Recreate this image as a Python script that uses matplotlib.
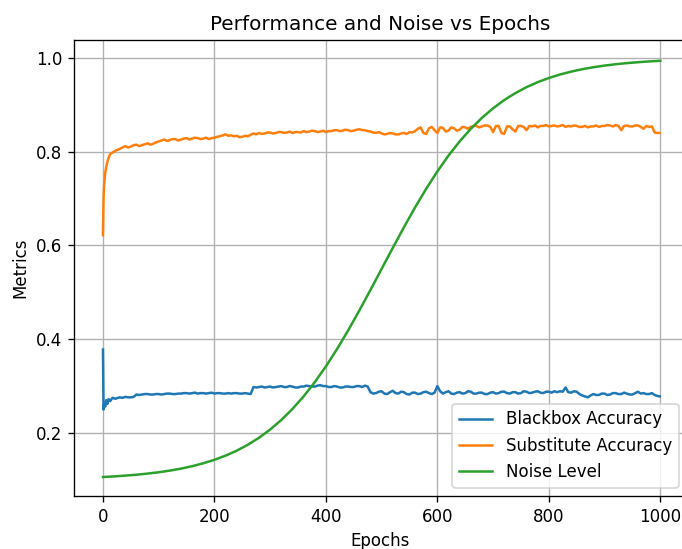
import matplotlib
matplotlib.use("Agg")
import matplotlib.pyplot as plt

acc_epochs = [0, 1, 2, 4, 6, 8, 10, 13, 17, 22] + list(range(30, 1000, 5)) + [999]

blackbox_acc = [
    0.378, 0.250, 0.262, 0.256, 0.270, 0.262, 0.272, 0.268, 0.275, 0.273,
    0.276, 0.275, 0.277, 0.276, 0.276, 0.277, 0.282, 0.281, 0.282, 0.283,
    0.283, 0.282, 0.282, 0.283, 0.283, 0.282, 0.283, 0.284, 0.284, 0.283,
    0.283, 0.284, 0.284, 0.285, 0.285, 0.284, 0.285, 0.286, 0.284, 0.285,
    0.285, 0.284, 0.285, 0.286, 0.284, 0.285, 0.285, 0.284, 0.284, 0.285,
    0.284, 0.285, 0.285, 0.284, 0.284, 0.285, 0.284, 0.283, 0.298, 0.297,
    0.298, 0.299, 0.297, 0.298, 0.299, 0.297, 0.298, 0.299, 0.300, 0.298,
    0.298, 0.300, 0.299, 0.297, 0.297, 0.299, 0.299, 0.301, 0.300, 0.299,
    0.299, 0.301, 0.302, 0.300, 0.300, 0.298, 0.298, 0.300, 0.299, 0.297,
    0.297, 0.299, 0.299, 0.298, 0.298, 0.300, 0.300, 0.298, 0.301, 0.299,
    0.287, 0.284, 0.285, 0.288, 0.289, 0.284, 0.283, 0.287, 0.290, 0.285,
    0.284, 0.288, 0.287, 0.283, 0.282, 0.286, 0.286, 0.283, 0.284, 0.287,
    0.288, 0.285, 0.283, 0.286, 0.300, 0.289, 0.284, 0.287, 0.289, 0.284,
    0.283, 0.286, 0.287, 0.284, 0.285, 0.289, 0.288, 0.284, 0.284, 0.286,
    0.286, 0.283, 0.283, 0.286, 0.287, 0.284, 0.285, 0.288, 0.288, 0.285,
    0.284, 0.287, 0.287, 0.284, 0.285, 0.289, 0.288, 0.285, 0.286, 0.288,
    0.289, 0.286, 0.285, 0.288, 0.288, 0.286, 0.289, 0.287, 0.289, 0.288,
    0.297, 0.287, 0.286, 0.289, 0.288, 0.283, 0.280, 0.278, 0.276, 0.280,
    0.283, 0.281, 0.281, 0.284, 0.284, 0.281, 0.282, 0.285, 0.285, 0.283,
    0.283, 0.286, 0.284, 0.282, 0.282, 0.285, 0.288, 0.284, 0.285, 0.283,
    0.283, 0.285, 0.281, 0.279,
    0.278,
]

substitute_acc = [
    0.622, 0.700, 0.728, 0.755, 0.768, 0.779, 0.787, 0.795, 0.798, 0.802,
    0.806, 0.809, 0.812, 0.809, 0.811, 0.814, 0.815, 0.812, 0.814, 0.816,
    0.818, 0.815, 0.817, 0.820, 0.822, 0.824, 0.826, 0.823, 0.825, 0.827,
    0.827, 0.824, 0.826, 0.828, 0.829, 0.826, 0.828, 0.830, 0.829, 0.827,
    0.828, 0.830, 0.827, 0.829, 0.830, 0.832, 0.833, 0.835, 0.837, 0.834,
    0.835, 0.833, 0.834, 0.831, 0.832, 0.834, 0.833, 0.836, 0.839, 0.837,
    0.840, 0.838, 0.839, 0.841, 0.841, 0.839, 0.840, 0.842, 0.842, 0.840,
    0.841, 0.843, 0.840, 0.842, 0.842, 0.841, 0.844, 0.842, 0.843, 0.845,
    0.844, 0.842, 0.843, 0.845, 0.842, 0.844, 0.844, 0.846, 0.846, 0.844,
    0.845, 0.847, 0.846, 0.844, 0.845, 0.847, 0.848, 0.846, 0.846, 0.844,
    0.843, 0.841, 0.840, 0.842, 0.839, 0.837, 0.838, 0.840, 0.839, 0.837,
    0.837, 0.839, 0.840, 0.838, 0.842, 0.841, 0.844, 0.849, 0.852, 0.840,
    0.838, 0.850, 0.853, 0.846, 0.840, 0.852, 0.851, 0.843, 0.845, 0.852,
    0.850, 0.845, 0.847, 0.853, 0.852, 0.849, 0.853, 0.855, 0.855, 0.852,
    0.854, 0.856, 0.856, 0.853, 0.842, 0.855, 0.855, 0.840, 0.838, 0.854,
    0.854, 0.848, 0.843, 0.855, 0.855, 0.853, 0.846, 0.855, 0.854, 0.856,
    0.852, 0.855, 0.855, 0.857, 0.854, 0.855, 0.856, 0.854, 0.855, 0.857,
    0.853, 0.855, 0.854, 0.856, 0.855, 0.853, 0.853, 0.855, 0.852, 0.854,
    0.854, 0.856, 0.853, 0.855, 0.855, 0.857, 0.856, 0.854, 0.857, 0.855,
    0.846, 0.855, 0.856, 0.854, 0.854, 0.856, 0.856, 0.853, 0.849, 0.855,
    0.853, 0.854, 0.841, 0.840,
    0.840,
]

noise_epochs = list(range(0, 1001, 20))
noise_level = [
    0.1060, 0.1073, 0.1090, 0.1109, 0.1133, 0.1162, 0.1197, 0.1239, 0.1291, 0.1353,
    0.1427, 0.1516, 0.1622, 0.1749, 0.1898, 0.2073, 0.2277, 0.2512, 0.2780, 0.3083,
    0.3420, 0.3790, 0.4189, 0.4612, 0.5052, 0.5500, 0.5948, 0.6388, 0.6811, 0.7210,
    0.7580, 0.7917, 0.8220, 0.8488, 0.8723, 0.8927, 0.9102, 0.9251, 0.9378, 0.9484,
    0.9573, 0.9647, 0.9709, 0.9761, 0.9803, 0.9838, 0.9867, 0.9891, 0.9910, 0.9927,
    0.9940,
]

# reference is rendered at a slightly larger scale, so use dpi 120
fig = plt.figure(figsize=(682 / 120, 549 / 120), dpi=120)
# axes runs a little past the right edge, as in the reference crop
ax = fig.add_axes([74 / 682, 53 / 549, 613 / 682, 456 / 549])

ax.plot(acc_epochs, blackbox_acc, label="Blackbox Accuracy")
ax.plot(acc_epochs, substitute_acc, label="Substitute Accuracy")
ax.plot(noise_epochs, noise_level, label="Noise Level")

ax.set_xlim(-52, 1048)
ax.set_ylim(0.0655, 1.0384)
ax.set_title("Performance and Noise vs Epochs")
ax.set_xlabel("Epochs")
ax.set_ylabel("Metrics")
ax.grid(True)
ax.legend(loc="lower right")

plt.savefig("out.png", dpi=120)
